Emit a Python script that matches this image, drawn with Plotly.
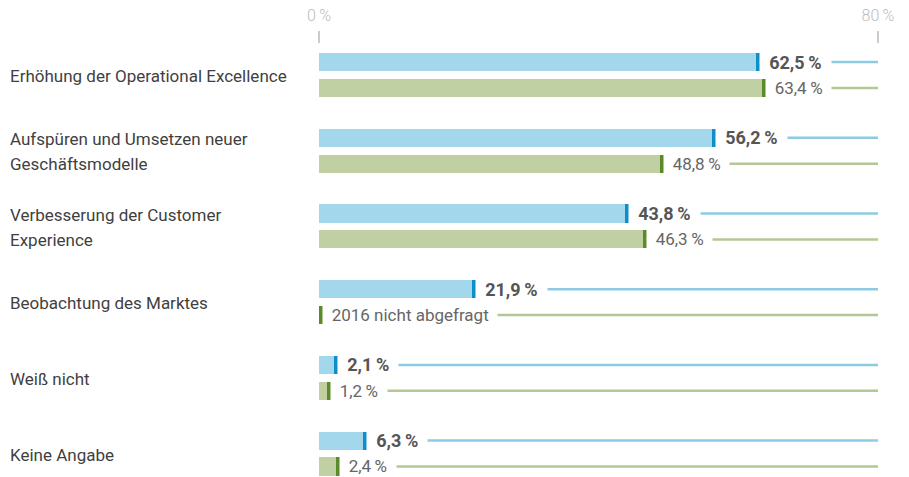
import plotly.graph_objects as go

categories = [
    "Erhöhung der Operational Excellence",
    "Aufspüren und Umsetzen neuer\nGeschäftsmodelle",
    "Verbesserung der Customer\nExperience",
    "Beobachtung des Marktes",
    "Weiß nicht",
    "Keine Angabe",
]
values_2017 = [62.5, 56.2, 43.8, 21.9, 2.1, 6.3]
values_2016 = [63.4, 48.8, 46.3, None, 1.2, 2.4]
missing_text = "2016 nicht abgefragt"
x_ticks = [0, 80]
x_ticktext = ["0\u2009%", "80\u2009%"]

FONT = "Roboto"
LIGHT_BLUE = "#a3d7eb"
DARK_BLUE = "#0f8fc7"
LINE_BLUE = "#8dcbe5"
LIGHT_GREEN = "#c0d0a3"
DARK_GREEN = "#5a8b28"
LINE_GREEN = "#b4c896"

OFF = 0.171
BAR_W = 0.24
CAP = 0.57
XMAX = 80


def fmt(v):
    return f"{v:.1f}".replace(".", ",") + "\u2009%"


rows = list(range(len(categories)))
y_blue = [r - OFF for r in rows]
y_green = [r + OFF for r in rows]
v16 = [v if v is not None else 0 for v in values_2016]

fig = go.Figure()
fig.add_bar(y=y_blue, x=values_2017, orientation="h", width=BAR_W,
            marker=dict(color=LIGHT_BLUE, line_width=0), hoverinfo="skip")
fig.add_bar(y=y_blue, x=[CAP] * len(rows), base=values_2017, orientation="h",
            width=BAR_W, marker=dict(color=DARK_BLUE, line_width=0), hoverinfo="skip")
fig.add_bar(y=y_green, x=v16, orientation="h", width=BAR_W,
            marker=dict(color=LIGHT_GREEN, line_width=0), hoverinfo="skip")
fig.add_bar(y=y_green, x=[CAP] * len(rows), base=v16, orientation="h",
            width=BAR_W, marker=dict(color=DARK_GREEN, line_width=0), hoverinfo="skip")

shapes = []
annotations = []
for r in rows:
    shapes.append(dict(type="line", xref="x", yref="y", x0=values_2017[r] + CAP, x1=XMAX,
                       y0=y_blue[r], y1=y_blue[r], line=dict(color=LINE_BLUE, width=2.5)))
    shapes.append(dict(type="line", xref="x", yref="y", x0=v16[r] + CAP, x1=XMAX,
                       y0=y_green[r], y1=y_green[r], line=dict(color=LINE_GREEN, width=2.5)))
    annotations.append(dict(x=values_2017[r] + CAP, y=y_blue[r], xref="x", yref="y",
                            text="\u2002" + fmt(values_2017[r]) + "\u2002", showarrow=False,
                            xanchor="left", yanchor="middle", bgcolor="white", borderpad=0,
                            xshift=-1,
                            font=dict(family=FONT, size=18, color="#555555", weight="bold")))
    t16 = fmt(values_2016[r]) if values_2016[r] is not None else missing_text
    annotations.append(dict(x=v16[r] + CAP, y=y_green[r], xref="x", yref="y",
                            text="\u2002" + t16 + "\u2002", showarrow=False,
                            xanchor="left", yanchor="middle", bgcolor="white", borderpad=0,
                            xshift=-1,
                            font=dict(family=FONT, size=17, color="#666666")))
    lines = categories[r].split("\n")
    n = len(lines)
    for i, ln in enumerate(lines):
        annotations.append(dict(x=0, y=r, xref="paper", yref="y", text=ln, showarrow=False,
                                xanchor="left", yanchor="middle", xshift=-311,
                                yshift=-(i - (n - 1) / 2) * 24.5 - 1,
                                font=dict(family=FONT, size=17, color="#3f3f3f")))

fig.update_layout(
    width=909, height=477,
    margin=dict(l=319, r=31, t=44, b=0),
    paper_bgcolor="white", plot_bgcolor="white",
    barmode="overlay", showlegend=False, bargap=0,
    shapes=shapes, annotations=annotations,
    xaxis=dict(range=[0, XMAX], side="top", tickvals=x_ticks, ticktext=x_ticktext,
               ticks="outside", ticklen=12, tickwidth=2, tickcolor="#cccccc",
               ticklabelstandoff=4,
               tickfont=dict(family=FONT, size=16, color="#bbbbbb", weight=300),
               showgrid=False, zeroline=False, showline=False, fixedrange=True),
    yaxis=dict(range=[5.31, -0.41], visible=False, fixedrange=True),
)

fig.write_html("out.html", config={"displayModeBar": False},
               post_script="document.body.style.margin='0';")
